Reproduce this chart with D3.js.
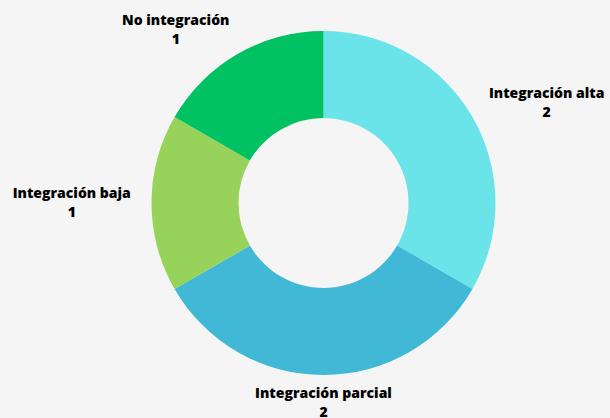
<!DOCTYPE html>
<meta charset="utf-8">
<script src="https://d3js.org/d3.v7.min.js"></script>
<div id="my_dataviz"></div>
<script>

// chart values
var categories = ["Integración alta", "Integración parcial", "Integración baja", "No integración"];
var values = [2, 2, 1, 1];
var colors = ["#6ae4e9", "#41b8d5", "#97d35a", "#00c262"];

var width = 610, height = 418;
var cx = 323.5, cy = 203;
var outer = 172, inner = 85, labelR = 200;

var data = categories.map(function(c, i) { return {name: c, value: values[i]}; });

var svg = d3.select("#my_dataviz")
  .append("svg")
    .attr("width", width)
    .attr("height", height);

svg.append("rect")
  .attr("width", width)
  .attr("height", height)
  .attr("fill", "#f5f5f5");

var g = svg.append("g")
  .attr("transform", "translate(" + cx + "," + cy + ")");

var pie = d3.pie()
  .sort(null)
  .value(function(d) { return d.value; });

var arc = d3.arc()
  .innerRadius(inner)
  .outerRadius(outer);

var labelArc = d3.arc()
  .innerRadius(labelR)
  .outerRadius(labelR);

var arcs = pie(data);

g.selectAll("path")
  .data(arcs)
  .enter().append("path")
    .attr("d", arc)
    .attr("fill", function(d, i) { return colors[i]; });

// labels: anchored just outside the ring, pushed sideways by half their width
var lab = g.selectAll(".lab")
  .data(arcs)
  .enter().append("text")
    .attr("class", "lab");

lab.append("tspan")
  .attr("class", "l1")
  .text(function(d) { return d.data.name; });
lab.append("tspan")
  .attr("class", "l2")
  .text(function(d) { return d.data.value; });

lab.each(function(d) {
  var t = d3.select(this);
  var w = t.select(".l1").node().getComputedTextLength();
  var c = labelArc.centroid(d);
  var a = (d.startAngle + d.endAngle) / 2;
  var s = Math.abs(Math.sin(a)) < 0.05 ? 0 : Math.sign(Math.sin(a));
  var x = c[0] + s * w / 2;
  t.select(".l1").attr("x", x).attr("y", c[1] - 5);
  t.select(".l2").attr("x", x).attr("y", c[1] + 14);
});

</script>
<style>
body { margin: 0; background: #f5f5f5; }
text {
  font-family: "Open Sans", sans-serif;
  font-weight: 800;
  font-size: 14px;
  text-anchor: middle;
  fill: #000;
}
</style>
